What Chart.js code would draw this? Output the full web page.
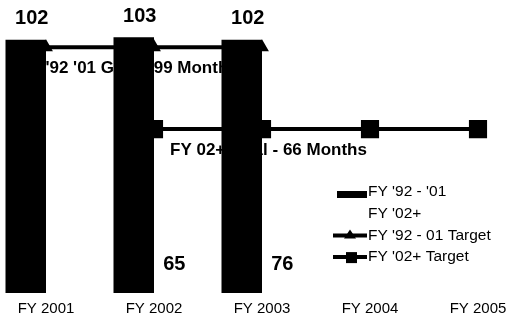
<!DOCTYPE html>
<html>
<head>
<meta charset="utf-8">
<script src="https://cdn.jsdelivr.net/npm/chart.js@4"></script>
<style>
  html, body { margin: 0; padding: 0; background: #fff; overflow: hidden; }
  #wrap { position: absolute; left: -8px; top: 0; width: 540px; height: 330px; }
</style>
</head>
<body>
<div id="wrap"><canvas id="chart"></canvas></div>
<script>
const categories = ["FY 2001", "FY 2002", "FY 2003", "FY 2004", "FY 2005"];
const months9201 = [102, 103, 102, null, null];
const months02 = [null, 65, 76, null, null];
const target9201 = [99, 99, 99, null, null];
const target02 = [null, 66, 66, 66, 66];

const seriesNames = ["FY '92 - '01", "FY '02+", "FY '92 - 01 Target", "FY '02+ Target"];
const goalNotes = ["FY '92 '01 Goal - 99 Months", "FY 02+ Goal - 66 Months"];

const FONT = "'Liberation Sans', Arial, sans-serif";

// value labels, goal notes and the legend are painted by hand
const notesPlugin = {
  id: "notes",
  afterDatasetsDraw(chart) {
    const ctx = chart.ctx;
    const x = chart.scales.x;
    const y = chart.scales.y;
    ctx.save();
    ctx.fillStyle = "#000";
    ctx.textAlign = "center";
    ctx.textBaseline = "middle";

    // numbers over the FY '92-'01 bars
    ctx.font = "bold 20px " + FONT;
    chart.getDatasetMeta(0).data.forEach((bar, i) => {
      if (months9201[i] == null) return;
      ctx.fillText(String(months9201[i]), bar.x + 6, bar.y - 21);
    });
    // numbers near the base of the FY '02+ bars
    chart.getDatasetMeta(1).data.forEach((bar, i) => {
      if (months02[i] == null) return;
      ctx.fillText(String(months02[i]), bar.x, bar.base - 29);
    });

    // goal text under each target line
    ctx.font = "bold 17px " + FONT;
    ctx.textAlign = "left";
    ctx.fillText(goalNotes[0], x.getPixelForValue(0) - 27, y.getPixelForValue(target9201[0]) + 21);
    ctx.fillText(goalNotes[1], x.getPixelForValue(1) + 16, y.getPixelForValue(target02[1]) + 21);
    ctx.restore();
  },
  afterDraw(chart) {
    const ctx = chart.ctx;
    const left = 345, textX = 376, top = 192, step = 21.7;
    ctx.save();
    ctx.font = "15.5px " + FONT;
    ctx.textBaseline = "middle";
    ctx.textAlign = "left";
    seriesNames.forEach((name, i) => {
      const cy = top + i * step;
      ctx.fillStyle = "#000";
      ctx.strokeStyle = "#000";
      if (i === 0) {
        ctx.fillRect(left, cy - 1, 30, 7);
      } else if (i >= 2) {
        ctx.lineWidth = 4;
        ctx.beginPath();
        ctx.moveTo(left - 4, cy);
        ctx.lineTo(left + 30, cy);
        ctx.stroke();
        if (i === 2) {
          ctx.beginPath();
          ctx.moveTo(left + 13, cy - 6);
          ctx.lineTo(left + 19, cy + 3);
          ctx.lineTo(left + 7, cy + 3);
          ctx.closePath();
          ctx.fill();
        } else {
          ctx.fillRect(left + 9, cy - 5, 11, 11);
        }
      }
      ctx.fillText(name, textX, cy);
    });
    ctx.restore();
  }
};

new Chart(document.getElementById("chart"), {
  type: "bar",
  data: {
    labels: categories,
    datasets: [
      {
        label: seriesNames[0],
        data: months9201,
        backgroundColor: "#000",
        order: 2
      },
      {
        label: seriesNames[1],
        data: months02,
        backgroundColor: "#fff",
        order: 2
      },
      {
        type: "line",
        label: seriesNames[2],
        data: target9201,
        borderColor: "#000",
        backgroundColor: "#000",
        borderWidth: 4,
        pointStyle: "triangle",
        pointRadius: 4,
        order: 1
      },
      {
        type: "line",
        label: seriesNames[3],
        data: target02,
        borderColor: "#000",
        backgroundColor: "#000",
        borderWidth: 4,
        pointStyle: "rect",
        pointRadius: 10,
        order: 1
      }
    ]
  },
  options: {
    responsive: true,
    maintainAspectRatio: false,
    animation: false,
    layout: { autoPadding: false, padding: { top: 0, bottom: 5, left: 0, right: 0 } },
    datasets: {
      bar: { categoryPercentage: 0.75, barPercentage: 1.0 }
    },
    plugins: {
      legend: { display: false },
      tooltip: { enabled: false }
    },
    scales: {
      x: {
        grid: { display: false, drawTicks: false },
        border: { display: false },
        ticks: {
          color: "#000",
          padding: 7,
          maxRotation: 0,
          autoSkip: false,
          font: { family: FONT, size: 15 }
        }
      },
      y: {
        display: false,
        min: 0,
        max: 118
      }
    }
  },
  plugins: [notesPlugin]
});
</script>
</body>
</html>
